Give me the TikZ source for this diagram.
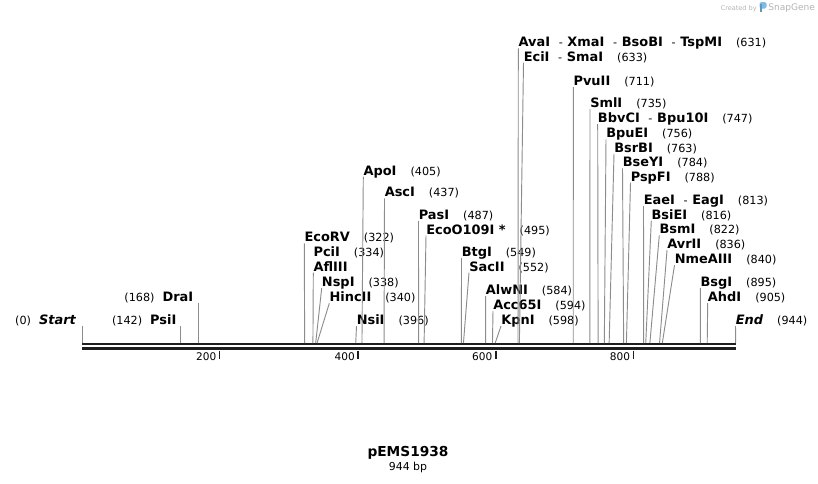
\documentclass[tikz,border=0pt]{standalone}
\usepackage{fontspec}
\setmainfont{DejaVu Sans}

\definecolor{cutline}{HTML}{8C8C8C}
\definecolor{strand}{HTML}{1E1E1E}
\definecolor{wmgray}{HTML}{B4B4B4}
\definecolor{wmblue}{HTML}{7DBBE8}

\newcommand{\bpnum}[1]{\hspace{10.5pt}{\mdseries\fontsize{8.4}{10}\selectfont(#1)}}
\newcommand{\lnum}[1]{{\mdseries\fontsize{8.4}{10}\selectfont(#1)}\hspace{6pt}}
\newcommand{\sepd}{\hspace{6.5pt}{\mdseries\fontsize{8.4}{10}\selectfont-}\hspace{3.5pt}}

\begin{document}
\begin{tikzpicture}[x=0.75pt,y=-0.75pt,
    enz/.style={inner sep=0pt,anchor=base west,text depth=1.1pt,font=\fontsize{9.7}{11.5}\selectfont\bfseries},
    enzl/.style={enz,anchor=base east},
    site/.style={cutline,line width=0.7pt},
    strandline/.style={strand,line width=2pt},
    tickmark/.style={strand,line width=1.1pt},
    ticklbl/.style={inner sep=0pt,anchor=base east,font=\fontsize{7.9}{9}\selectfont}]
      \useasboundingbox (0,0) rectangle (818,483);
      % cut sites on the sequence
      \coordinate (Start-c) at (82.3,343);
      \coordinate (PsiI-c) at ({82.3+0.6905*142},343);
      \coordinate (DraI-c) at ({82.3+0.6905*168},343);
      \coordinate (EcoRV-c) at ({82.3+0.6905*322},343);
      \coordinate (AflIII-c) at ({82.3+0.6905*334},343);
      \coordinate (NspI-c) at ({82.3+0.6905*338},343);
      \coordinate (HincII-c) at ({82.3+0.6905*340},343);
      \coordinate (NsiI-c) at ({82.3+0.6905*396},343);
      \coordinate (ApoI-c) at ({82.3+0.6905*405},343);
      \coordinate (AscI-c) at ({82.3+0.6905*437},343);
      \coordinate (PasI-c) at ({82.3+0.6905*487},343);
      \coordinate (EcoO109I-c) at ({82.3+0.6905*495},343);
      \coordinate (BtgI-c) at ({82.3+0.6905*549},343);
      \coordinate (SacII-c) at ({82.3+0.6905*552},343);
      \coordinate (AlwNI-c) at ({82.3+0.6905*584},343);
      \coordinate (Acc65I-c) at ({82.3+0.6905*594},343);
      \coordinate (KpnI-c) at ({82.3+0.6905*598},343);
      \coordinate (AvaI-c) at ({82.3+0.6905*631},343);
      \coordinate (EciI-c) at ({82.3+0.6905*633},343);
      \coordinate (PvuII-c) at ({82.3+0.6905*711},343);
      \coordinate (SmlI-c) at ({82.3+0.6905*735},343);
      \coordinate (BbvCI-c) at ({82.3+0.6905*747},343);
      \coordinate (BpuEI-c) at ({82.3+0.6905*756},343);
      \coordinate (BsrBI-c) at ({82.3+0.6905*763},343);
      \coordinate (BseYI-c) at ({82.3+0.6905*784},343);
      \coordinate (PspFI-c) at ({82.3+0.6905*788},343);
      \coordinate (EaeI-c) at ({82.3+0.6905*813},343);
      \coordinate (BsiEI-c) at ({82.3+0.6905*816},343);
      \coordinate (BsmI-c) at ({82.3+0.6905*822},343);
      \coordinate (AvrII-c) at ({82.3+0.6905*836},343);
      \coordinate (NmeAIII-c) at ({82.3+0.6905*840},343);
      \coordinate (BsgI-c) at ({82.3+0.6905*895},343);
      \coordinate (AhdI-c) at ({82.3+0.6905*905},343);
      \coordinate (End-c) at (735.7,343);
      % sequence and ruler
      \draw[strandline] (82.3,344) -- (735.7,344);
      \draw[strandline] (82.3,348.2) -- (735.7,348.2);
      \draw[tickmark] (219.5,350.5) -- (219.5,358.5);
      \draw[tickmark] (358,350.5) -- (358,358.5);
      \draw[tickmark] (495.8,350.5) -- (495.8,358.5);
      \draw[tickmark] (633.5,350.5) -- (633.5,358.5);
      \node[ticklbl] (t200) at (216.5,360.5) {200};
      \node[ticklbl] (t400) at (355,360.5) {400};
      \node[ticklbl] (t600) at (492.5,360.5) {600};
      \node[ticklbl] (t800) at (630.3,360.5) {800};
      % enzyme labels
      \node[enzl] (Start) at (76.5,324.3) {\lnum{0}\textit{Start}};
      \node[enzl] (PsiI) at (176.7,324.3) {\lnum{142}PsiI};
      \node[enzl] (DraI) at (193.5,301) {\lnum{168}DraI};
      \node[enz] (EcoRV) at (304.3,241.7) {EcoRV\bpnum{322}};
      \node[enz] (PciI) at (313.3,256.5) {PciI\bpnum{334}};
      \node[enz] (AflIII) at (313.3,271) {AflIII};
      \node[enz] (NspI) at (321.7,286.5) {NspI\bpnum{338}};
      \node[enz] (HincII) at (329.3,301.5) {HincII\bpnum{340}};
      \node[enz] (NsiI) at (356.5,324.3) {NsiI\bpnum{396}};
      \node[enz] (ApoI) at (363.3,175) {ApoI\bpnum{405}};
      \node[enz] (AscI) at (384.5,196.7) {AscI\bpnum{437}};
      \node[enz] (PasI) at (418.5,219.2) {PasI\bpnum{487}};
      \node[enz] (EcoO109I) at (426,234) {EcoO109I *\bpnum{495}};
      \node[enz] (BtgI) at (461.5,256.5) {BtgI\bpnum{549}};
      \node[enz] (SacII) at (469,271) {SacII\bpnum{552}};
      \node[enz] (AlwNI) at (485.7,294.3) {AlwNI\bpnum{584}};
      \node[enz] (Acc65I) at (493,309.3) {Acc65I\bpnum{594}};
      \node[enz] (KpnI) at (501,324.3) {KpnI\bpnum{598}};
      \node[enz] (AvaI) at (518.3,46.7) {AvaI\sepd XmaI\sepd BsoBI\sepd TspMI\bpnum{631}};
      \node[enz] (EciI) at (523.5,61) {EciI\sepd SmaI\bpnum{633}};
      \node[enz] (PvuII) at (573.3,85.3) {PvuII\bpnum{711}};
      \node[enz] (SmlI) at (590,107.3) {SmlI\bpnum{735}};
      \node[enz] (BbvCI) at (597.7,122.3) {BbvCI\sepd Bpu10I\bpnum{747}};
      \node[enz] (BpuEI) at (606,137.7) {BpuEI\bpnum{756}};
      \node[enz] (BsrBI) at (614,152.2) {BsrBI\bpnum{763}};
      \node[enz] (BseYI) at (622.5,166.7) {BseYI\bpnum{784}};
      \node[enz] (PspFI) at (630.5,181) {PspFI\bpnum{788}};
      \node[enz] (EaeI) at (643.5,204.3) {EaeI\sepd EagI\bpnum{813}};
      \node[enz] (BsiEI) at (651.3,219) {BsiEI\bpnum{816}};
      \node[enz] (BsmI) at (659.3,233.7) {BsmI\bpnum{822}};
      \node[enz] (AvrII) at (667,248.5) {AvrII\bpnum{836}};
      \node[enz] (NmeAIII) at (674.5,263.5) {NmeAIII\bpnum{840}};
      \node[enz] (BsgI) at (700.3,286.5) {BsgI\bpnum{895}};
      \node[enz] (AhdI) at (707.7,301.5) {AhdI\bpnum{905}};
      \node[enz] (End) at (735.5,324.3) {\textit{End}\bpnum{944}};
      % connectors from labels to sites
      \draw[site] (Start-c |- Start.south) -- (Start-c);
      \draw[site] (PsiI-c |- PsiI.south) -- (PsiI-c);
      \draw[site] (DraI-c |- DraI.south) -- (DraI-c);
      \draw[site] (EcoRV.south west) -- (EcoRV-c);
      \draw[site] (AflIII.south west) -- (AflIII-c);
      \draw[site] (NspI.south west) -- (NspI-c);
      \draw[site] (HincII.south west) -- (HincII-c);
      \draw[site] (NsiI.south west) -- (NsiI-c);
      \draw[site] (ApoI.south west) -- (ApoI-c);
      \draw[site] (AscI.south west) -- (AscI-c);
      \draw[site] (PasI.south west) -- (PasI-c);
      \draw[site] (EcoO109I.south west) -- (EcoO109I-c);
      \draw[site] (BtgI.south west) -- (BtgI-c);
      \draw[site] (SacII.south west) -- (SacII-c);
      \draw[site] (AlwNI.south west) -- (AlwNI-c);
      \draw[site] (Acc65I.south west) -- (Acc65I-c);
      \draw[site] (KpnI.south west) -- (KpnI-c);
      \draw[site] (AvaI.south west) -- (AvaI-c);
      \draw[site] (EciI.south west) -- (EciI-c);
      \draw[site] (PvuII.south west) -- (PvuII-c);
      \draw[site] (SmlI.south west) -- (SmlI-c);
      \draw[site] (BbvCI.south west) -- (BbvCI-c);
      \draw[site] (BpuEI.south west) -- (BpuEI-c);
      \draw[site] (BsrBI.south west) -- (BsrBI-c);
      \draw[site] (BseYI.south west) -- (BseYI-c);
      \draw[site] (PspFI.south west) -- (PspFI-c);
      \draw[site] (EaeI.south west) -- (EaeI-c);
      \draw[site] (BsiEI.south west) -- (BsiEI-c);
      \draw[site] (BsmI.south west) -- (BsmI-c);
      \draw[site] (AvrII.south west) -- (AvrII-c);
      \draw[site] (NmeAIII.south west) -- (NmeAIII-c);
      \draw[site] (BsgI.south west) -- (BsgI-c);
      \draw[site] (AhdI.south west) -- (AhdI-c);
      \draw[site] (End.south west) -- (End-c);
      % plasmid name
      \node[anchor=base,inner sep=0pt,font=\fontsize{10.3}{12}\selectfont\bfseries] (plasmid) at (408,456.7) {pEMS1938};
      \node[anchor=base,inner sep=0pt,font=\fontsize{8.2}{10}\selectfont] (bplen) at (408,470.7) {944 bp};
      % watermark
      \node[anchor=base west,inner sep=0pt,text=wmgray,font=\fontsize{4.9}{6}\selectfont] (madeby) at (720.5,10) {Created by};
      \fill[wmblue,rounded corners=1.2pt] (759.5,2) rectangle (766.5,8.5);
      \fill[wmblue!80!black] (759.5,4) rectangle (762,12);
      \node[anchor=base west,inner sep=0pt,text=wmgray,font=\fontsize{6.8}{8}\selectfont] (snapgene) at (768,10.5) {SnapGene};
    \end{tikzpicture}
\end{document}
